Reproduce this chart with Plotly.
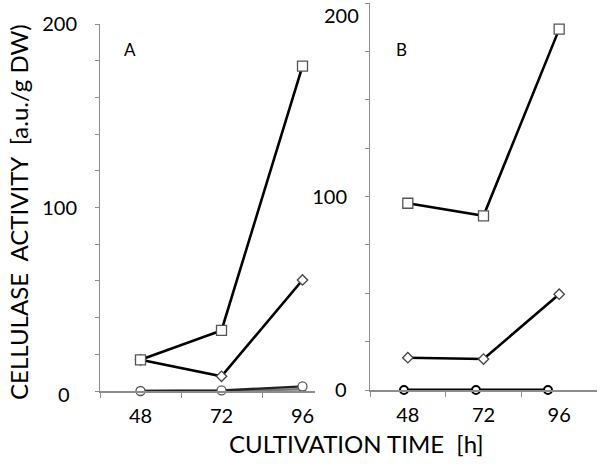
import plotly.graph_objects as go

times = ["48", "72", "96"]

# Panel A
a_square = [17, 33, 177]
a_diamond = [17, 8, 60.5]
a_circle = [0, 0.3, 2.5]
a_triangle = [0, 0, 1]

# Panel B
b_square = [96.5, 90, 186.5]
b_diamond = [16.7, 16, 49.5]
b_circle = [0, 0, 0]

FONT = "Lato"
AX = "#8c8c8c"

fig = go.Figure()

def add(x, y, xa, ya, sym, size, lc, mc, lw=2.6, mlw=1.3):
    fig.add_trace(go.Scatter(
        x=x, y=y, xaxis=xa, yaxis=ya, mode="lines+markers",
        line=dict(color=lc, width=lw),
        marker=dict(symbol=sym, size=size, color="white", line=dict(color=mc, width=mlw)),
        cliponaxis=False, showlegend=False))

add(times, a_triangle, "x", "y", "triangle-up", 6, "#777777", "#777777", lw=2.5)
add(times, a_circle, "x", "y", "circle", 9, "#222222", "#555555", lw=2.4)
add(times, a_diamond, "x", "y", "diamond", 8, "black", "#444444")
add(times, a_square, "x", "y", "square", 10, "black", "#555555")

add(times, b_circle, "x3", "y2", "circle", 8, "black", "black", lw=2.8, mlw=2)
add(times, b_diamond, "x2", "y2", "diamond", 8, "black", "#444444")
add(times, b_square, "x2", "y2", "square", 10, "black", "#555555")

W, H = 600, 468
def fx(p): return p / W
def fy(p): return 1 - p / H

ticks_a = list(range(0, 201, 20))
ticks_b = list(range(0, 201, 25))
lab_a = lambda v: str(v) if v in (100, 200) else ""
lab_b = lambda v: str(v) if v == 100 else ""

common_x = dict(type="category", showgrid=False, zeroline=False, showline=True,
                linecolor=AX, linewidth=1.5, ticks="outside", ticklen=5, tickcolor=AX,
                tickson="boundaries", tickfont=dict(family=FONT, size=20, color="black"),
                ticklabelstandoff=6, automargin=False)
common_y = dict(showgrid=False, zeroline=False, showline=True, linecolor=AX, linewidth=1,
                ticks="outside", ticklen=4, tickcolor=AX, automargin=False,
                tickfont=dict(family=FONT, size=20, color="black"), ticklabelstandoff=14)

def txt(t, x, y, size, angle=0):
    return dict(text=t, x=fx(x), y=fy(y), xref="paper", yref="paper", showarrow=False,
                xanchor="center", yanchor="middle", textangle=angle,
                font=dict(family=FONT, size=size, color="black"))

fig.update_layout(
    template="none",
    width=W, height=H, margin=dict(l=0, r=0, t=0, b=0, autoexpand=False),
    plot_bgcolor="white", paper_bgcolor="white",
    xaxis=dict(domain=[fx(100), fx(315)], range=[-0.5, -0.5 + 215 / 81],
               anchor="y", **common_x),
    yaxis=dict(domain=[fy(391), fy(24)], range=[0, 200], anchor="x",
               tickvals=ticks_a, ticktext=[lab_a(v) for v in ticks_a], **common_y),
    xaxis2=dict(domain=[fx(370), fx(597)], range=[-0.5, 2.5], anchor="y2", **common_x),
    xaxis3=dict(type="category", overlaying="x2", anchor="y2", range=[-0.472, 2.681],
                visible=False, automargin=False),
    yaxis2=dict(domain=[fy(390), fy(3)], range=[0, 200], anchor="x2",
                tickvals=ticks_b, ticktext=[lab_b(v) for v in ticks_b], **common_y),
    annotations=[
        txt("0", 64, 394, 20),
        txt("0", 341, 389, 20),
        txt("200", 342, 15, 20),
        txt("A", 130, 50, 17),
        txt("B", 401, 50, 17),
        txt("CELLULASE  ACTIVITY  [a.u./g DW)", 19, 212, 24, angle=-90),
        txt("CULTIVATION TIME  [h]", 356, 443, 24),
    ],
)

fig.write_html("out.html", config={"displayModeBar": False},
               post_script="document.body.style.margin='0';document.body.style.overflow='hidden';")
